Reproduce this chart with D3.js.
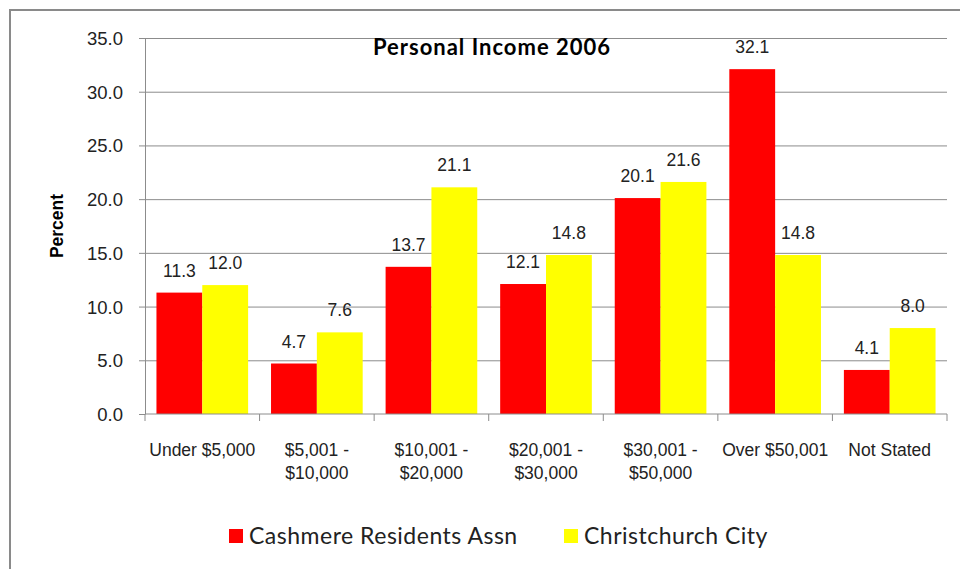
<!DOCTYPE html>
<html>
<head>
<script src="https://cdn.jsdelivr.net/npm/d3@7"></script>
<style>
  body { margin: 0; background: #fff; }
  .chart text { font-family: "Liberation Sans", Arial, sans-serif; fill: #222; }
  .grid line { stroke: #8c8c8c; }
  .grid path { display: none; }
  .axis path, .axis line { stroke: #8c8c8c; }
</style>
</head>
<body>
<svg class="chart" width="960" height="569"></svg>
<script>
var categories = ["Under $5,000", "$5,001 - $10,000", "$10,001 - $20,000", "$20,001 - $30,000",
                  "$30,001 - $50,000", "Over $50,001", "Not Stated"];
var catLines = [["Under $5,000"], ["$5,001 -", "$10,000"], ["$10,001 -", "$20,000"], ["$20,001 -", "$30,000"],
                ["$30,001 -", "$50,000"], ["Over $50,001"], ["Not Stated"]];
var seriesNames = ["Cashmere Residents Assn", "Christchurch City"];
var cashmere = [11.3, 4.7, 13.7, 12.1, 20.1, 32.1, 4.1];
var christchurch = [12.0, 7.6, 21.1, 14.8, 21.6, 14.8, 8.0];
var colors = ["#ff0000", "#ffff00"];
var yTicks = [0, 5, 10, 15, 20, 25, 30, 35];

var svg = d3.select("svg");
var margin = {left: 145, right: 13, top: 38, bottom: 155};
var w = 960 - margin.left - margin.right;
var h = 569 - margin.top - margin.bottom;

// outer frame
svg.append("rect").attr("x", 10).attr("y", 10).attr("width", 970).attr("height", 580)
  .attr("fill", "none").attr("stroke", "#8a8a8a").attr("stroke-width", 2);

var g = svg.append("g").attr("transform", "translate(" + margin.left + "," + margin.top + ")");

var x = d3.scaleBand().domain(categories).range([0, w]).paddingInner(0.2).paddingOuter(0.1);
var xOuter = d3.scaleBand().domain(categories).range([0, w]);
var xSub = d3.scaleBand().domain(seriesNames).range([0, x.bandwidth()]);
var y = d3.scaleLinear().domain([0, 35]).range([h, 0]);

g.append("g").attr("class", "grid")
  .call(d3.axisLeft(y).tickValues(yTicks.slice(1)).tickSize(-w).tickFormat(""));

var rows = categories.map(function(c, i) { return {cat: c, vals: [cashmere[i], christchurch[i]]}; });

var groups = g.selectAll(".grp").data(rows).enter().append("g")
  .attr("transform", function(d) { return "translate(" + x(d.cat) + ",0)"; });

groups.selectAll("rect").data(function(d) { return d.vals.map(function(v, j) { return {s: seriesNames[j], v: v, j: j}; }); })
  .enter().append("rect")
  .attr("x", function(d) { return xSub(d.s); })
  .attr("y", function(d) { return y(d.v); })
  .attr("width", xSub.bandwidth())
  .attr("height", function(d) { return h - y(d.v); })
  .attr("fill", function(d) { return colors[d.j]; });

groups.selectAll(".lbl").data(function(d) { return d.vals.map(function(v, j) { return {s: seriesNames[j], v: v}; }); })
  .enter().append("text")
  .attr("x", function(d) { return xSub(d.s) + xSub.bandwidth() / 2; })
  .attr("y", function(d) { return y(d.v) - 16; })
  .attr("text-anchor", "middle").style("font-size", "17.5px")
  .text(function(d) { return d.v.toFixed(1); });

// y axis
var ya = g.append("g").attr("class", "axis")
  .call(d3.axisLeft(y).tickValues(yTicks).tickSize(6).tickSizeOuter(0).tickFormat(d3.format(".1f")));
ya.selectAll("text").style("font-size", "18.5px").attr("x", -22).attr("dy", "0.35em");

// x axis with ticks at band boundaries
var xa = g.append("g").attr("class", "axis").attr("transform", "translate(0," + h + ")");
xa.append("line").attr("x1", 0).attr("x2", w).attr("y1", 0).attr("y2", 0);
xa.selectAll(".tk").data(categories.concat(["end"])).enter().append("line")
  .attr("x1", function(d) { return d === "end" ? w : xOuter(d); })
  .attr("x2", function(d) { return d === "end" ? w : xOuter(d); })
  .attr("y1", 0).attr("y2", 7);
var xl = xa.selectAll(".xl").data(categories).enter().append("text")
  .attr("text-anchor", "middle").style("font-size", "17.5px")
  .attr("transform", function(d) { return "translate(" + (xOuter(d) + xOuter.bandwidth() / 2) + ",42)"; });
xl.selectAll("tspan").data(function(d, i) { return catLines[i]; }).enter().append("tspan")
  .attr("x", 0).attr("dy", function(d, i) { return i === 0 ? 0 : 22.5; })
  .text(function(d) { return d; });

// title
svg.append("text").attr("x", 492).attr("y", 55).attr("text-anchor", "middle")
  .style("font-family", "Lato, 'Open Sans', sans-serif").style("font-weight", "bold").style("font-size", "22px")
  .style("letter-spacing", "1px").style("fill", "#000").text("Personal Income 2006");

// y title
svg.append("text").attr("transform", "translate(63," + (margin.top + h / 2) + ") rotate(-90)")
  .attr("text-anchor", "middle").style("font-weight", "bold").style("font-size", "17.5px").style("fill", "#000")
  .text("Percent");

// legend
var legX = [229, 564];
var leg = svg.selectAll(".leg").data(seriesNames).enter().append("g")
  .attr("transform", function(d, i) { return "translate(" + legX[i] + ",529)"; });
leg.append("rect").attr("width", 14).attr("height", 14).attr("fill", function(d, i) { return colors[i]; });
leg.append("text").attr("x", 20).attr("y", 15)
  .style("font-family", "Lato, 'Open Sans', sans-serif").style("font-size", "23px").style("letter-spacing", "0.5px")
  .style("fill", "#222")
  .text(function(d) { return d; });
</script>
</body>
</html>
